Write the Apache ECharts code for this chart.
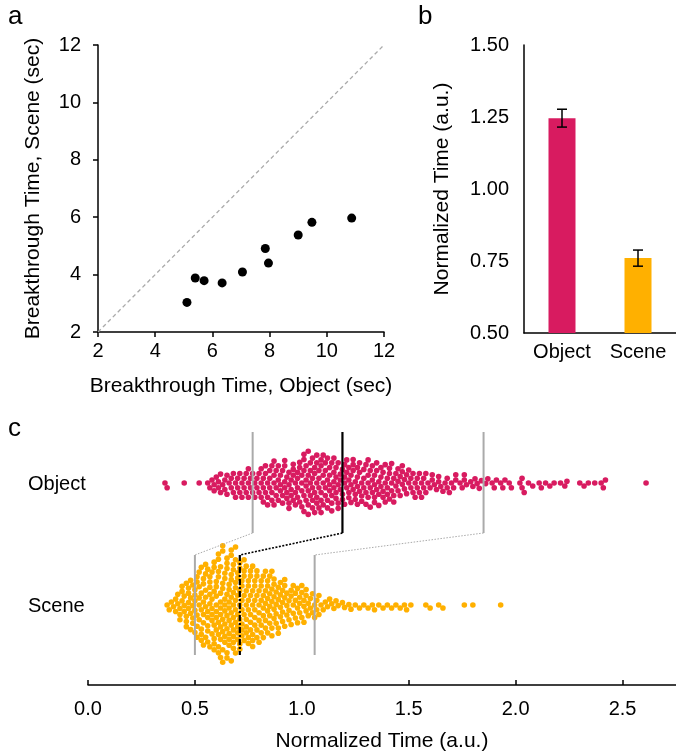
<!DOCTYPE html>
<html><head><meta charset="utf-8">
<script src="https://cdn.jsdelivr.net/npm/echarts@6/dist/echarts.min.js"></script>
<style>html,body{margin:0;padding:0;background:#fff}#c{width:676px;height:754px}</style>
</head><body><div id="c"></div>
<script>
// ---- Panel a: breakthrough times ----
const scatterObject = [5.11,5.40,5.71,6.34,7.05,7.85,7.96,9.00,9.48,10.87];
const scatterScene  = [3.03,3.88,3.79,3.71,4.09,4.91,4.40,5.38,5.82,5.97];
const scatterTicks  = [2,4,6,8,10,12];
// ---- Panel b: normalized means ----
const barCategories = ['Object','Scene'];
const barMeans  = [1.246, 0.760];
const barErrors = [0.031, 0.028];
const barTicks  = [0.50,0.75,1.00,1.25,1.50];
// ---- Panel c: normalized time per trial ----
const swarmTicks = [0,0.5,1,1.5,2,2.5];
const objectTimes = [0.36,0.37,0.45,0.52,0.56,0.57,0.58,0.59,0.59,
0.60,0.61,0.61,0.62,0.62,0.63,0.64,0.64,0.65,0.65,0.66,0.67,0.67,0.68,0.68,0.69,0.69,
0.70,0.70,0.71,0.71,0.72,0.72,0.73,0.73,0.74,0.74,0.75,0.75,0.75,0.76,0.76,0.77,0.77,0.78,0.78,0.79,0.79,
0.80,0.80,0.81,0.81,0.81,0.82,0.82,0.82,0.83,0.83,0.83,0.84,0.84,0.84,0.85,0.85,0.85,0.86,0.86,0.86,0.87,0.87,0.87,0.87,0.88,0.88,0.88,0.89,0.89,0.89,
0.90,0.90,0.90,0.91,0.91,0.91,0.92,0.92,0.92,0.92,0.93,0.93,0.93,0.94,0.94,0.94,0.94,0.95,0.95,0.95,0.96,0.96,0.96,0.96,0.97,0.97,0.97,0.98,0.98,0.98,0.98,0.99,0.99,0.99,
1.00,1.00,1.00,1.00,1.01,1.01,1.01,1.01,1.01,1.02,1.02,1.02,1.02,1.03,1.03,1.03,1.03,1.03,1.04,1.04,1.04,1.04,1.05,1.05,1.05,1.05,1.05,1.06,1.06,1.06,1.06,1.07,1.07,1.07,1.07,1.07,1.08,1.08,1.08,1.08,1.09,1.09,1.09,1.09,1.09,
1.10,1.10,1.10,1.10,1.11,1.11,1.11,1.11,1.12,1.12,1.12,1.12,1.13,1.13,1.13,1.13,1.14,1.14,1.14,1.14,1.15,1.15,1.15,1.15,1.16,1.16,1.16,1.16,1.17,1.17,1.17,1.17,1.18,1.18,1.18,1.19,1.19,1.19,
1.20,1.20,1.20,1.20,1.21,1.21,1.21,1.22,1.22,1.22,1.22,1.23,1.23,1.23,1.24,1.24,1.24,1.24,1.25,1.25,1.25,1.26,1.26,1.26,1.26,1.27,1.27,1.27,1.28,1.28,1.28,1.29,1.29,1.29,
1.30,1.30,1.30,1.31,1.31,1.31,1.31,1.32,1.32,1.32,1.33,1.33,1.33,1.34,1.34,1.34,1.34,1.35,1.35,1.35,1.36,1.36,1.36,1.37,1.37,1.37,1.38,1.38,1.38,1.39,1.39,1.39,
1.40,1.40,1.40,1.41,1.41,1.41,1.42,1.42,1.42,1.43,1.43,1.43,1.44,1.44,1.45,1.45,1.45,1.46,1.46,1.47,1.47,1.47,1.48,1.48,1.49,1.49,
1.50,1.50,1.51,1.51,1.52,1.52,1.53,1.53,1.54,1.54,1.55,1.55,1.56,1.56,1.57,1.57,1.58,1.58,1.59,
1.60,1.61,1.61,1.62,1.63,1.64,1.64,1.65,1.66,1.67,1.68,1.68,1.69,
1.70,1.71,1.72,1.72,1.74,1.75,1.76,1.76,1.77,1.79,
1.80,1.81,1.82,1.83,1.84,1.86,1.87,1.89,
1.90,1.91,1.93,1.94,1.95,1.97,1.98,
2.02,2.03,2.03,2.04,2.06,2.08,
2.11,2.12,2.14,2.16,2.18,
2.21,2.23,2.24,
2.30,2.32,2.34,2.37,
2.40,2.41,2.42,
2.61];
const sceneTimes = [0.37,0.38,0.39,
0.40,0.41,0.41,0.42,0.42,0.43,0.43,0.43,0.44,0.44,0.44,0.45,0.45,0.45,0.46,0.46,0.46,0.46,0.47,0.47,0.47,0.47,0.48,0.48,0.48,0.48,0.49,0.49,0.49,0.49,
0.50,0.50,0.50,0.50,0.50,0.51,0.51,0.51,0.51,0.51,0.52,0.52,0.52,0.52,0.52,
0.53,0.53,0.53,0.53,0.53,0.53,0.54,0.54,0.54,0.54,0.54,0.54,0.55,0.55,0.55,0.55,0.55,0.55,
0.56,0.56,0.56,0.56,0.56,0.56,0.57,0.57,0.57,0.57,0.57,0.57,0.58,0.58,0.58,0.58,0.58,0.58,
0.59,0.59,0.59,0.59,0.59,0.59,0.59,
0.60,0.60,0.60,0.60,0.60,0.60,0.60,0.61,0.61,0.61,0.61,0.61,0.61,0.61,0.61,
0.62,0.62,0.62,0.62,0.62,0.62,0.62,0.62,0.63,0.63,0.63,0.63,0.63,0.63,0.63,0.63,
0.64,0.64,0.64,0.64,0.64,0.64,0.64,0.64,0.65,0.65,0.65,0.65,0.65,0.65,0.65,0.65,
0.66,0.66,0.66,0.66,0.66,0.66,0.66,0.66,0.67,0.67,0.67,0.67,0.67,0.67,0.67,0.67,
0.68,0.68,0.68,0.68,0.68,0.68,0.68,0.68,0.68,0.69,0.69,0.69,0.69,0.69,0.69,0.69,0.69,
0.70,0.70,0.70,0.70,0.70,0.70,0.70,0.71,0.71,0.71,0.71,0.71,0.71,0.71,
0.72,0.72,0.72,0.72,0.72,0.72,0.72,0.73,0.73,0.73,0.73,0.73,0.73,
0.74,0.74,0.74,0.74,0.74,0.74,0.75,0.75,0.75,0.75,0.75,0.75,
0.76,0.76,0.76,0.76,0.76,0.76,0.77,0.77,0.77,0.77,0.77,0.77,
0.78,0.78,0.78,0.78,0.78,0.78,0.79,0.79,0.79,0.79,0.79,
0.80,0.80,0.80,0.80,0.80,0.81,0.81,0.81,0.81,0.81,0.82,0.82,0.82,0.82,0.82,
0.83,0.83,0.83,0.83,0.83,0.84,0.84,0.84,0.84,0.84,0.85,0.85,0.85,0.85,0.85,
0.86,0.86,0.86,0.86,0.86,0.87,0.87,0.87,0.87,0.87,0.88,0.88,0.88,0.88,0.89,0.89,0.89,0.89,
0.90,0.90,0.90,0.90,0.91,0.91,0.91,0.91,0.92,0.92,0.92,0.92,
0.93,0.93,0.93,0.94,0.94,0.94,0.95,0.95,0.95,0.96,0.96,0.96,0.97,0.97,0.97,0.98,0.98,0.98,0.99,0.99,0.99,
1.00,1.00,1.00,1.01,1.01,1.01,1.02,1.02,1.02,1.03,1.03,1.04,1.04,1.05,1.05,1.06,1.06,1.07,1.07,1.08,1.08,1.09,
1.10,1.11,1.12,1.13,1.14,1.15,1.16,1.17,1.19,
1.20,1.22,1.23,1.25,1.27,1.29,
1.31,1.33,1.34,1.36,1.38,
1.40,1.42,1.44,1.46,1.48,1.49,
1.51,1.58,1.60,1.64,1.66,1.76,1.80,1.93];
const objectQuantiles = [0.77,1.19,1.85];
const sceneQuantiles  = [0.50,0.71,1.06];

const FONT = 'Liberation Sans, Arial, Helvetica, sans-serif';
const OBJ_COLOR = '#D81B60', SCN_COLOR = '#FFB000';

// panel c layout (pixels inside grid)
const C_LEFT = 88, C_TOP = 420, C_W = 588, C_H = 265, C_XMAX = 2.75;
const OBJ_CENTER = 63, SCN_CENTER = 185;
const OBJ_TOP = 12, OBJ_BOT = 113, SCN_TOP = 135, SCN_BOT = 235;
const DOT = 5.2;

function swarm(values, center) {
  const k = C_W / C_XMAX;
  const pts = values.map(v => ({ v, x: v * k, y: 0 })).sort((a, b) => a.x - b.x);
  const placed = [];
  const d2 = DOT * DOT;
  for (const p of pts) {
    const near = [];
    for (let i = placed.length - 1; i >= 0; i--) {
      const q = placed[i];
      if (p.x - q.x >= DOT) break;
      near.push(q);
    }
    const cand = [0];
    for (const q of near) {
      const dx = p.x - q.x;
      const dy = Math.sqrt(Math.max(0, d2 - dx * dx));
      cand.push(q.y + dy, q.y - dy);
    }
    cand.sort((a, b) => Math.abs(a) - Math.abs(b) || b - a);
    for (const c of cand) {
      let ok = true;
      for (const q of near) {
        const dx = p.x - q.x, dy = c - q.y;
        if (dx * dx + dy * dy < d2 - 1e-6) { ok = false; break; }
      }
      if (ok) { p.y = c; break; }
    }
    placed.push(p);
  }
  return pts.map(p => [p.v, center + p.y]);
}

const tickTxt = { color: '#000', fontSize: 20, fontFamily: FONT };
const nameTxt = { color: '#000', fontSize: 21, fontFamily: FONT };
const blackLine = { show: true, onZero: false, lineStyle: { color: '#000', width: 1.5 } };

const series = [];
// panel a
series.push({
  type: 'line', xAxisIndex: 0, yAxisIndex: 0, data: [[2, 2], [12, 12]],
  symbol: 'none', lineStyle: { color: '#aaa', width: 1.3, type: [4, 3] }, silent: true
});
series.push({
  type: 'scatter', xAxisIndex: 0, yAxisIndex: 0, symbolSize: 9,
  itemStyle: { color: '#000', opacity: 1 },
  data: scatterObject.map((x, i) => [x, scatterScene[i]])
});
// panel b
series.push({
  type: 'bar', xAxisIndex: 1, yAxisIndex: 1, barWidth: 27,
  data: barMeans.map((m, i) => ({ value: m, itemStyle: { color: i === 0 ? OBJ_COLOR : SCN_COLOR } }))
});
series.push({
  type: 'custom', xAxisIndex: 1, yAxisIndex: 1, z: 5,
  data: barMeans.map((m, i) => [i, m, barErrors[i]]),
  renderItem(params, api) {
    const i = api.value(0), m = api.value(1), e = api.value(2);
    const t = api.coord([i, m + e]), b = api.coord([i, m - e]);
    const w = 5, st = { stroke: '#000', lineWidth: 1.5 };
    return { type: 'group', children: [
      { type: 'line', shape: { x1: t[0], y1: t[1], x2: b[0], y2: b[1] }, style: st },
      { type: 'line', shape: { x1: t[0] - w, y1: t[1], x2: t[0] + w, y2: t[1] }, style: st },
      { type: 'line', shape: { x1: b[0] - w, y1: b[1], x2: b[0] + w, y2: b[1] }, style: st }
    ]};
  }
});
// panel c swarms
series.push({
  type: 'scatter', xAxisIndex: 2, yAxisIndex: 2, symbolSize: DOT + 0.4,
  itemStyle: { color: OBJ_COLOR, opacity: 1 }, data: swarm(objectTimes, OBJ_CENTER), z: 2
});
series.push({
  type: 'scatter', xAxisIndex: 2, yAxisIndex: 2, symbolSize: DOT + 0.4,
  itemStyle: { color: SCN_COLOR, opacity: 1 }, data: swarm(sceneTimes, SCN_CENTER), z: 2
});
// quantile lines and connectors
objectQuantiles.forEach((q, i) => {
  const med = i === 1;
  series.push({
    type: 'line', xAxisIndex: 2, yAxisIndex: 2, symbol: 'none', z: 4, silent: true,
    data: [[q, OBJ_TOP], [q, OBJ_BOT]],
    lineStyle: { color: med ? '#000' : '#aaa', width: med ? 2.2 : 2 }
  });
  const s = sceneQuantiles[i];
  series.push({
    type: 'line', xAxisIndex: 2, yAxisIndex: 2, symbol: 'none', z: 4, silent: true,
    data: [[s, SCN_TOP], [s, SCN_BOT]],
    lineStyle: { color: med ? '#000' : '#aaa', width: med ? 2.2 : 2, type: med ? [6, 2, 2, 2] : 'solid' }
  });
  series.push({
    type: 'line', xAxisIndex: 2, yAxisIndex: 2, symbol: 'none', z: 4, silent: true,
    data: [[q, OBJ_BOT], [s, SCN_TOP]],
    lineStyle: { color: med ? '#000' : '#aaa', width: med ? 1.6 : 1, type: med ? [2, 1.5] : [1.5, 1.5] }
  });
});

const option = {
  animation: false,
  backgroundColor: '#fff',
  textStyle: { fontFamily: FONT },
  grid: [
    { left: 98, top: 45, width: 286, height: 287 },
    { left: 524, top: 45, width: 152, height: 288 },
    { left: C_LEFT, top: C_TOP, width: C_W, height: C_H }
  ],
  xAxis: [
    { gridIndex: 0, type: 'value', min: 2, max: 12, interval: 2,
      axisLine: blackLine, axisTick: { show: true, length: 5, lineStyle: { color: '#000', width: 1.5 } },
      splitLine: { show: false }, axisLabel: Object.assign({ margin: 9, customValues: scatterTicks }, tickTxt),
      name: 'Breakthrough Time, Object (sec)', nameLocation: 'middle', nameGap: 44, nameTextStyle: nameTxt },
    { gridIndex: 1, type: 'category', data: barCategories,
      axisLine: blackLine, axisTick: { show: false },
      axisLabel: Object.assign({ margin: 9 }, tickTxt) },
    { gridIndex: 2, type: 'value', min: 0, max: C_XMAX, position: 'bottom',
      axisLine: blackLine,
      axisTick: { show: true, inside: true, length: 5, customValues: swarmTicks, lineStyle: { color: '#000', width: 1.5 } },
      splitLine: { show: false },
      axisLabel: Object.assign({ margin: 14, customValues: swarmTicks, formatter: v => v.toFixed(1) }, tickTxt),
      name: 'Normalized Time (a.u.)', nameLocation: 'middle', nameGap: 46, nameTextStyle: nameTxt }
  ],
  yAxis: [
    { gridIndex: 0, type: 'value', min: 2, max: 12, interval: 2,
      axisLine: blackLine, axisTick: { show: true, length: 5, lineStyle: { color: '#000', width: 1.5 } },
      splitLine: { show: false }, axisLabel: Object.assign({ margin: 17, customValues: scatterTicks }, tickTxt),
      name: 'Breakthrough Time, Scene (sec)', nameLocation: 'middle', nameGap: 54, nameTextStyle: nameTxt },
    { gridIndex: 1, type: 'value', min: 0.5, max: 1.5, interval: 0.25,
      axisLine: blackLine, axisTick: { show: false }, splitLine: { show: false },
      axisLabel: Object.assign({ margin: 15, customValues: barTicks, formatter: v => v.toFixed(2) }, tickTxt),
      name: 'Normalized Time (a.u.)', nameLocation: 'middle', nameGap: 71, nameTextStyle: nameTxt },
    { gridIndex: 2, type: 'value', min: 0, max: C_H, inverse: true, show: false }
  ],
  graphic: [
    { type: 'text', x: 8, y: 4, style: { text: 'a', font: '26px ' + FONT, fill: '#000' } },
    { type: 'text', x: 418, y: 4, style: { text: 'b', font: '26px ' + FONT, fill: '#000' } },
    { type: 'text', x: 8, y: 416, style: { text: 'c', font: '26px ' + FONT, fill: '#000' } },
    { type: 'text', x: 28, y: 484, style: { text: 'Object', font: '20px ' + FONT, fill: '#000', verticalAlign: 'middle' } },
    { type: 'text', x: 28, y: 606, style: { text: 'Scene', font: '20px ' + FONT, fill: '#000', verticalAlign: 'middle' } }
  ],
  series
};
const chart = echarts.init(document.getElementById('c'), null, { renderer: 'canvas' });
chart.setOption(option);
</script></body></html>
